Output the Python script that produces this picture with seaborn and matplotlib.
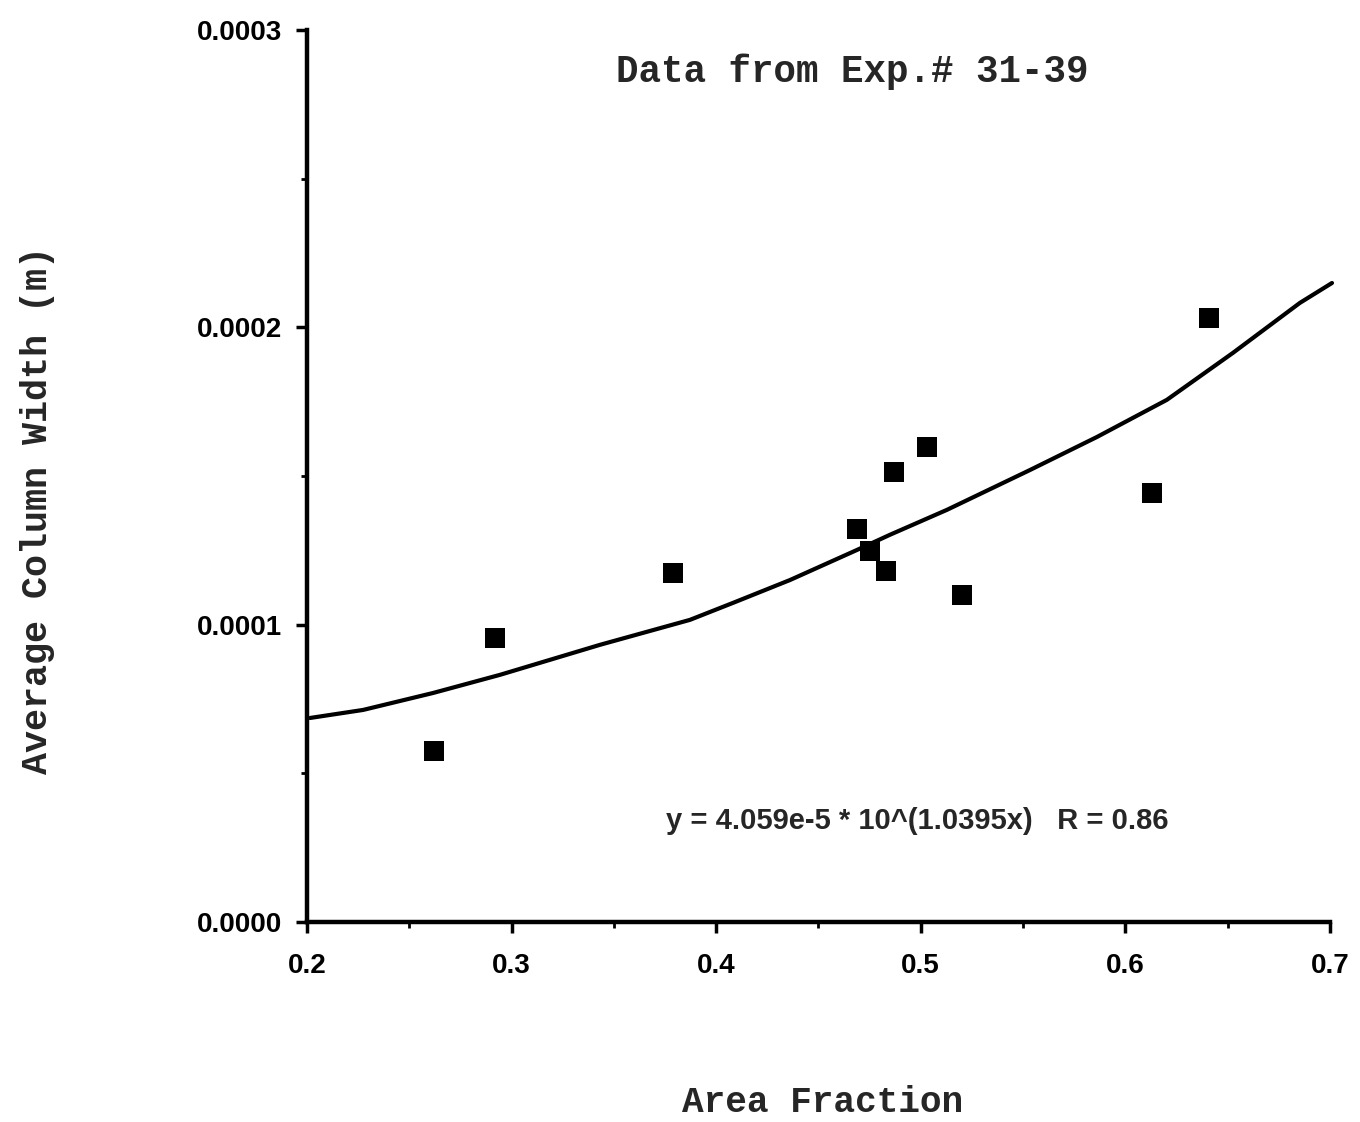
import numpy as np
import pandas as pd
import matplotlib
matplotlib.use("Agg")
import matplotlib.pyplot as plt
import seaborn as sns
from matplotlib.ticker import MultipleLocator, FormatStrFormatter

# Measured data points (Area Fraction vs Average Column Width in m)
area_fraction = [0.262, 0.292, 0.379, 0.469, 0.475, 0.483, 0.487, 0.503, 0.520, 0.613, 0.641]
column_width = [0.575e-4, 0.955e-4, 1.174e-4, 1.322e-4, 1.248e-4, 1.181e-4,
                1.514e-4, 1.598e-4, 1.100e-4, 1.443e-4, 2.032e-4]

# Fitted curve as drawn in the reference
curve_x = [0.2015, 0.2274, 0.2616, 0.2943, 0.3432, 0.3872, 0.4082, 0.4361, 0.4688,
           0.4849, 0.5128, 0.5534, 0.5861, 0.6203, 0.6526, 0.6853, 0.7010]
curve_y = [6.86e-5, 7.13e-5, 7.70e-5, 8.31e-5, 9.32e-5, 1.016e-4, 1.073e-4, 1.150e-4,
           1.251e-4, 1.302e-4, 1.386e-4, 1.520e-4, 1.631e-4, 1.756e-4, 1.914e-4,
           2.082e-4, 2.149e-4]

x_ticks = [0.2, 0.3, 0.4, 0.5, 0.6, 0.7]
y_ticks = [0.0, 0.0001, 0.0002, 0.0003]

title_text = "Data from Exp.# 31-39"
equation_text = "y = 4.059e-5 * 10^(1.0395x)   R = 0.86"
x_label = "Area Fraction"
y_label = "Average Column Width (m)"

sns.set_style("ticks")
plt.rcParams["font.family"] = ["Liberation Sans", "DejaVu Sans"]

fig = plt.figure(figsize=(13.6, 11.22), dpi=100)
ax = fig.add_axes([0.2257, 0.1783, 0.9779 - 0.2257, 0.9733 - 0.1783])

pts = pd.DataFrame({"x": area_fraction, "y": column_width})
crv = pd.DataFrame({"x": curve_x, "y": curve_y})

sns.lineplot(data=crv, x="x", y="y", ax=ax, color="black", linewidth=3.0,
             sort=False, estimator=None, clip_on=False)
sns.scatterplot(data=pts, x="x", y="y", ax=ax, color="black", marker="s",
                s=190, edgecolor="black", linewidth=0, zorder=3)

ax.set_xlim(0.2, 0.7)
ax.set_ylim(0.0, 0.0003)
ax.set_xticks(x_ticks)
ax.set_yticks(y_ticks)
ax.xaxis.set_minor_locator(MultipleLocator(0.05))
ax.yaxis.set_minor_locator(MultipleLocator(0.00005))
ax.xaxis.set_major_formatter(FormatStrFormatter("%.1f"))
ax.yaxis.set_major_formatter(FormatStrFormatter("%.4f"))

for s in ["top", "right"]:
    ax.spines[s].set_visible(False)
for s in ["left", "bottom"]:
    ax.spines[s].set_linewidth(3.2)
    ax.spines[s].set_color("black")

ax.tick_params(axis="both", which="major", direction="out", length=8, width=2.5,
               colors="black", labelsize=20)
ax.tick_params(axis="both", which="minor", direction="out", length=4, width=2,
               colors="black")
ax.tick_params(axis="y", which="major", pad=10)
ax.tick_params(axis="x", which="major", pad=14)
for lab in ax.get_xticklabels() + ax.get_yticklabels():
    lab.set_fontweight("bold")

ax.set_xlabel("")
ax.set_ylabel("")

mono = ["Liberation Mono", "DejaVu Sans Mono"]
fig.text(823 / 1360, 1 - 1103 / 1122, x_label, ha="center", va="center",
         fontsize=26, fontweight="bold", family=mono)
fig.text(38 / 1360, 1 - 510 / 1122, y_label, ha="center", va="center",
         rotation=90, fontsize=26.5, fontweight="bold", family=mono)
fig.text(852 / 1360, 1 - 72 / 1122, title_text, ha="center", va="center",
         fontsize=27, fontweight="bold", family=mono)
fig.text(917 / 1360, 1 - 821 / 1122, equation_text, ha="center", va="center",
         fontsize=21, fontweight="bold")

fig.savefig("out.png", dpi=100, facecolor="white")
